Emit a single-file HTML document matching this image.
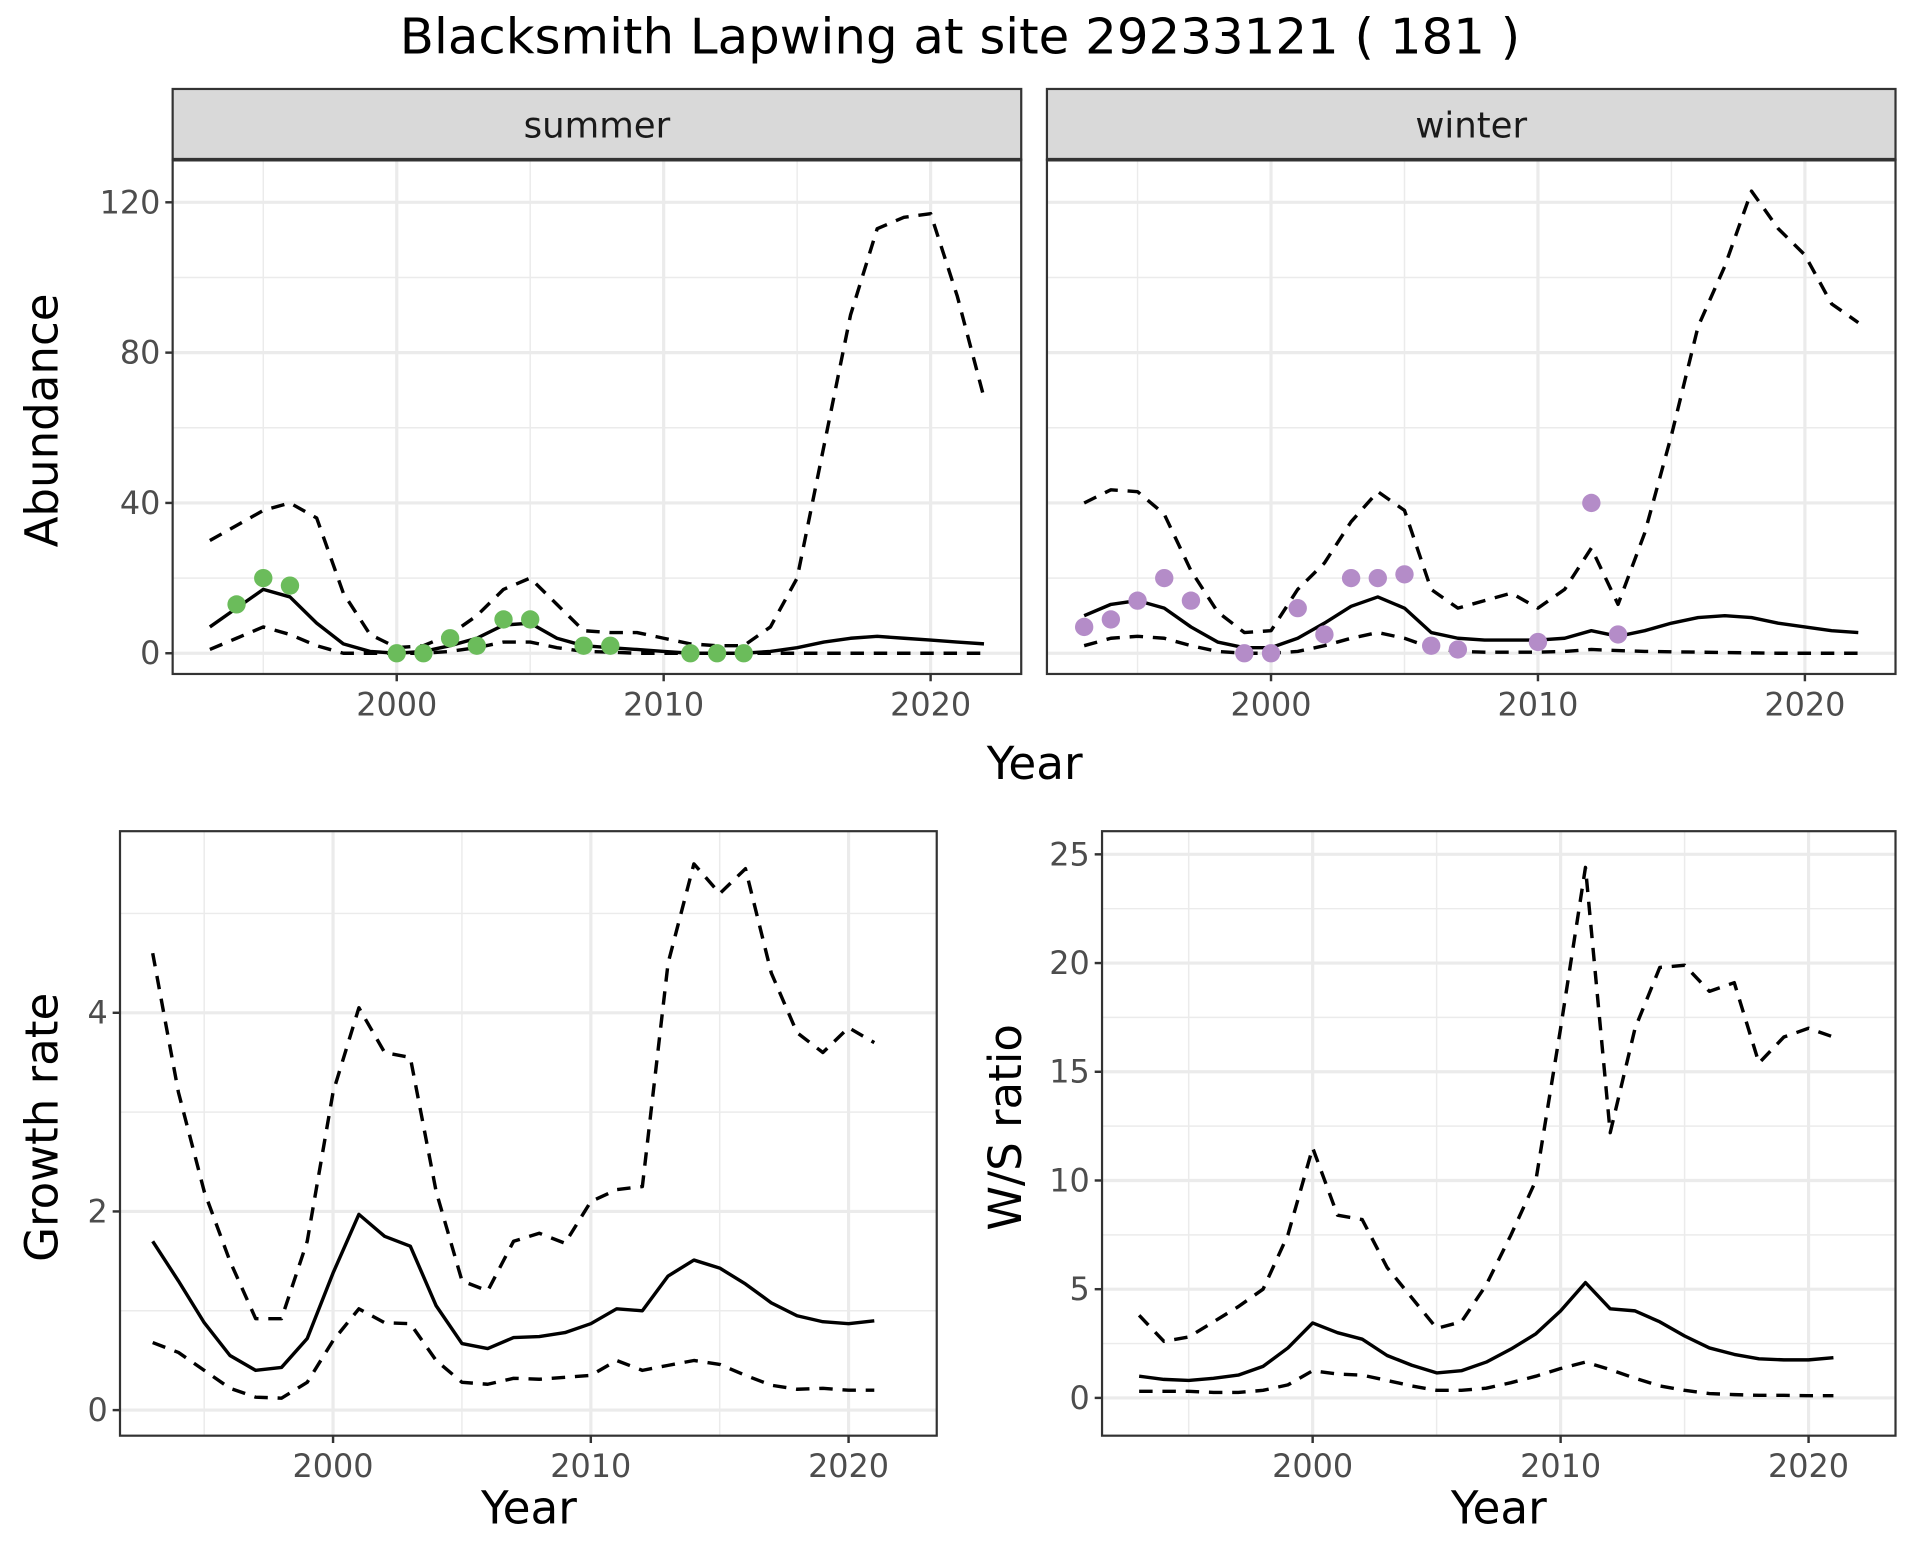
<!DOCTYPE html>
<html><head><meta charset="utf-8"><style>
html,body{margin:0;padding:0;background:#fff;}
svg{display:block;font-family:"DejaVu Sans","Liberation Sans",sans-serif;}
</style></head><body>
<svg id="fig" width="1920" height="1560" viewBox="0 0 1568 1280" preserveAspectRatio="none" xmlns="http://www.w3.org/2000/svg">
<rect width="1568" height="1280" fill="#fff"/>
<text x="784" y="44" text-anchor="middle" font-size="40" textLength="915" lengthAdjust="spacingAndGlyphs" fill="#000">Blacksmith Lapwing at site 29233121 ( 181 )</text>
</svg>
<script>
const yearsAb = [1993,1994,1995,1996,1997,1998,1999,2000,2001,2002,2003,2004,2005,2006,2007,2008,2009,2010,2011,2012,2013,2014,2015,2016,2017,2018,2019,2020,2021,2022];
const summerMean = [7,12,17,15,8,2.5,0.5,0,0.5,2,4,7.5,8,4,2,1.5,1,0.5,0,0,0,0.5,1.5,3,4,4.5,4,3.5,3,2.5];
const summerUpper = [30,34,38,40,36,16,5,1.5,2,5,10,17,20,13,6,5.5,5.5,4,2.5,2,2,7,20,55,90,113,116,117,95,68];
const summerLower = [1,4,7,5,2,0,0,0,0,0.5,1.5,3,3,1.5,0.5,0.3,0,0,0,0,0,0,0,0,0,0,0,0,0,0];
const summerObsYears = [1994,1995,1996,2000,2001,2002,2003,2004,2005,2007,2008,2011,2012,2013];
const summerObs = [13,20,18,0,0,4,2,9,9,2,2,0,0,0];
const winterMean = [10,13,14,12,7,3,1.5,1.5,4,8,12.5,15,12,5.5,4,3.5,3.5,3.5,4,6,4.5,6,8,9.5,10,9.5,8,7,6,5.5];
const winterUpper = [40,43.5,43,37,22,11,5.5,6,17,24,35,43,38,17,12,14,16,12,17,28,13,32,58,87,103,123,113,106,93,88];
const winterLower = [2,4,4.5,4,2,0.5,0,0,0.5,2,4,5.5,4,1.5,0.5,0.3,0.3,0.3,0.5,1,0.7,0.5,0.4,0.3,0.2,0.1,0,0,0,0];
const winterObsYears = [1993,1994,1995,1996,1997,1999,2000,2001,2002,2003,2004,2005,2006,2007,2010,2012,2013];
const winterObs = [7,9,14,20,14,0,0,12,5,20,20,21,2,1,3,40,5];
const abYTicks = [0,40,80,120];
const abYMinor = [20,60,100];
const xTicks = [2000,2010,2020];
const xMinor = [1995,2005,2015];

const yearsGr = [1993,1994,1995,1996,1997,1998,1999,2000,2001,2002,2003,2004,2005,2006,2007,2008,2009,2010,2011,2012,2013,2014,2015,2016,2017,2018,2019,2020,2021];
const growthMean = [1.7,1.3,0.88,0.55,0.4,0.43,0.72,1.38,1.97,1.75,1.65,1.05,0.67,0.62,0.73,0.74,0.78,0.87,1.02,1.0,1.35,1.51,1.43,1.27,1.08,0.95,0.89,0.87,0.9];
const growthUpper = [4.6,3.2,2.2,1.5,0.92,0.92,1.7,3.2,4.05,3.6,3.55,2.2,1.3,1.2,1.7,1.78,1.68,2.1,2.22,2.25,4.5,5.5,5.2,5.45,4.4,3.8,3.6,3.85,3.7];
const growthLower = [0.68,0.58,0.4,0.22,0.13,0.12,0.28,0.7,1.02,0.88,0.87,0.5,0.28,0.26,0.32,0.31,0.33,0.35,0.5,0.4,0.45,0.5,0.46,0.35,0.25,0.21,0.22,0.2,0.2];
const grYTicks = [0,2,4];
const grYMinor = [1,3,5];

const wsMean = [1.0,0.85,0.8,0.9,1.05,1.45,2.3,3.45,3.0,2.7,1.95,1.5,1.15,1.25,1.65,2.25,2.95,4.0,5.3,4.1,4.0,3.5,2.85,2.3,2.0,1.8,1.75,1.75,1.85];
const wsUpper = [3.8,2.6,2.8,3.5,4.2,5.0,7.5,11.5,8.4,8.2,6.0,4.6,3.2,3.5,5.2,7.5,10,17,24.4,12.2,17,19.8,19.9,18.7,19.1,15.4,16.6,17,16.6];
const wsLower = [0.3,0.3,0.3,0.25,0.25,0.35,0.6,1.25,1.1,1.05,0.8,0.55,0.35,0.35,0.45,0.7,1.0,1.35,1.65,1.3,0.9,0.55,0.35,0.2,0.15,0.12,0.12,0.1,0.1];
const wsYTicks = [0,5,10,15,20,25];
const wsYMinor = [2.5,7.5,12.5,17.5,22.5];

const NS='http://www.w3.org/2000/svg';
const svg=document.getElementById('fig');
function el(tag,attrs,parent){const e=document.createElementNS(NS,tag);for(const k in attrs)e.setAttribute(k,attrs[k]);(parent||svg).appendChild(e);return e;}

function panel(o){
  const g=el('g',{});
  
  
  const xs=v=>o.x0+(v-o.xa)*(o.x1-o.x0)/(o.xb-o.xa);
  const ys=v=>o.y0+(v-o.ya)*(o.y1-o.y0)/(o.yb-o.ya);
  el('rect',{x:o.L,y:o.T,width:o.R-o.L,height:o.B-o.T,fill:'#fff'},g);
  o.yMinor.forEach(v=>el('line',{x1:o.L,x2:o.R,y1:ys(v),y2:ys(v),stroke:'#ebebeb','stroke-width':1.2},g));
  xMinor.forEach(v=>el('line',{x1:xs(v),x2:xs(v),y1:o.T,y2:o.B,stroke:'#ebebeb','stroke-width':1.2},g));
  o.yTicks.forEach(v=>el('line',{x1:o.L,x2:o.R,y1:ys(v),y2:ys(v),stroke:'#ebebeb','stroke-width':2.6},g));
  xTicks.forEach(v=>el('line',{x1:xs(v),x2:xs(v),y1:o.T,y2:o.B,stroke:'#ebebeb','stroke-width':2.6},g));
  const line=(yrs,vals,dash,nm)=>{
    const p=el('polyline',{points:yrs.map((y,i)=>xs(y).toFixed(1)+','+ys(vals[i]).toFixed(1)).join(' '),fill:'none',stroke:'#000','stroke-width':2.8,'stroke-linejoin':'round'},g);
    if(dash)p.setAttribute('stroke-dasharray',dash);
    
    
  };
  line(o.years,o.upper,'11 8',o.name+'-upper-ci');
  line(o.years,o.lower,'11 8',o.name+'-lower-ci');
  line(o.years,o.mean,null,o.name+'-mean-line');
  if(o.obsY){o.obsY.forEach((y,i)=>{
    const c=el('circle',{cx:xs(y),cy:ys(o.obs[i]),r:7.5,fill:o.color},g);
    
    
  });}
  el('rect',{x:o.L,y:o.T,width:o.R-o.L,height:o.B-o.T,fill:'none',stroke:'#333','stroke-width':1.8},g);
  if(o.showY){o.yTicks.forEach(v=>{
    el('line',{x1:o.L-6,x2:o.L,y1:ys(v),y2:ys(v),stroke:'#333','stroke-width':2},g);
    const t=el('text',{x:o.L-10,y:ys(v)+9,'text-anchor':'end','font-size':26,fill:'#4d4d4d'},g);t.textContent=v;
    
    
  });}
  xTicks.forEach(v=>{
    el('line',{x1:xs(v),x2:xs(v),y1:o.B,y2:o.B+6,stroke:'#333','stroke-width':2},g);
    const t=el('text',{x:xs(v),y:o.B+34,'text-anchor':'middle','font-size':26,fill:'#4d4d4d'},g);t.textContent=v;
    
    
  });
  if(o.strip){
    el('rect',{x:o.L,y:73,width:o.R-o.L,height:o.T-73,fill:'#d9d9d9',stroke:'#333','stroke-width':1.8},g);
    el('line',{x1:o.L,x2:o.R,y1:o.T,y2:o.T,stroke:'#333','stroke-width':3},g);
    const t=el('text',{x:(o.L+o.R)/2,y:113,'text-anchor':'middle','font-size':29,fill:'#1a1a1a'},g);t.textContent=o.strip;
    
    
  }
}
panel({name:'summer-panel',L:141,R:834,T:131,B:553,x0:324,x1:760,xa:2000,xb:2020,y0:536,y1:166,ya:0,yb:120,
  yTicks:abYTicks,yMinor:abYMinor,years:yearsAb,mean:summerMean,upper:summerUpper,lower:summerLower,obsY:summerObsYears,obs:summerObs,color:'#6bbc5b',showY:true,strip:'summer'});
panel({name:'winter-panel',L:855,R:1548,T:131,B:553,x0:1038,x1:1474,xa:2000,xb:2020,y0:536,y1:166,ya:0,yb:120,
  yTicks:abYTicks,yMinor:abYMinor,years:yearsAb,mean:winterMean,upper:winterUpper,lower:winterLower,obsY:winterObsYears,obs:winterObs,color:'#b48cc8',showY:false,strip:'winter'});
panel({name:'growth-panel',L:98,R:765,T:682,B:1178,x0:272,x1:693,xa:2000,xb:2020,y0:1157,y1:831,ya:0,yb:4,
  yTicks:grYTicks,yMinor:grYMinor,years:yearsGr,mean:growthMean,upper:growthUpper,lower:growthLower,showY:true});
panel({name:'ws-ratio-panel',L:900,R:1548,T:682,B:1178,x0:1072,x1:1477,xa:2000,xb:2020,y0:1147,y1:701,ya:0,yb:25,
  yTicks:wsYTicks,yMinor:wsYMinor,years:yearsGr,mean:wsMean,upper:wsUpper,lower:wsLower,showY:true});

function label(txt,x,y,rot,nm){
  const t=el('text',{x:x,y:y,'text-anchor':'middle','font-size':37,fill:'#000'});
  if(rot)t.setAttribute('transform','rotate(-90 '+x+' '+y+')');
  t.textContent=txt;
  
  
}
label('Year',845,639,false,'top-x-axis-title');
label('Abundance',47,345,true,'abundance-axis-title');
label('Year',432,1250,false,'growth-x-axis-title');
label('Growth rate',47,925,true,'growth-y-axis-title');
label('Year',1224,1250,false,'ws-x-axis-title');
label('W/S ratio',834,925,true,'ws-y-axis-title');
</script>
</body></html>
